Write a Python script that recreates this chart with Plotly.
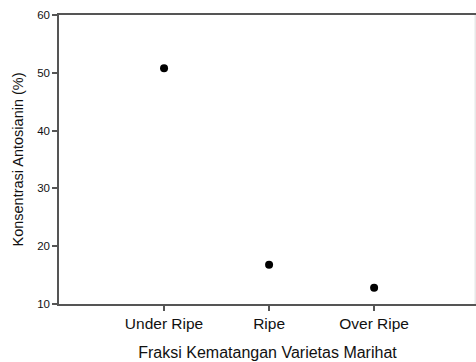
import plotly.graph_objects as go

categories = ["Under Ripe", "Ripe", "Over Ripe"]
positions = [1, 2, 3]
konsentrasi = [50.8, 16.8, 12.8]
y_ticks = [10, 20, 30, 40, 50, 60]

fig = go.Figure()
fig.add_trace(go.Scatter(
    x=positions, y=konsentrasi, mode="markers",
    marker=dict(color="black", size=8, symbol="circle"),
    showlegend=False,
))

fig.update_layout(
    width=476, height=362,
    margin=dict(l=59, r=0, t=15, b=58),
    paper_bgcolor="white", plot_bgcolor="white",
    font=dict(family="Liberation Sans", color="#111"),
)
fig.update_xaxes(
    range=[0, 3.97], tickvals=positions, ticktext=categories,
    showgrid=False, zeroline=False,
    showline=True, linecolor="#555", linewidth=1.5, mirror=True,
    ticks="outside", ticklen=5, tickcolor="#555", tickwidth=1.5,
    tickfont=dict(size=15.5, color="#111"),
    title=dict(text="Fraksi Kematangan Varietas Marihat", font=dict(size=16, color="#111"), standoff=15),
)
fig.update_yaxes(
    range=[10, 60], tickvals=y_ticks,
    showgrid=False, zeroline=False,
    showline=True, linecolor="#555", linewidth=1.5,
    ticks="outside", ticklen=5, tickcolor="#555", tickwidth=1.5,
    tickfont=dict(size=11.5, color="#111"),
    title=dict(text="Konsentrasi Antosianin (%)", font=dict(size=14.5, color="#111"), standoff=10),
)
fig.add_shape(type="line", xref="paper", yref="paper", x0=0.998, x1=0.998, y0=0, y1=1,
              line=dict(color="#ddd", width=1))

fig.write_html("out.html")
